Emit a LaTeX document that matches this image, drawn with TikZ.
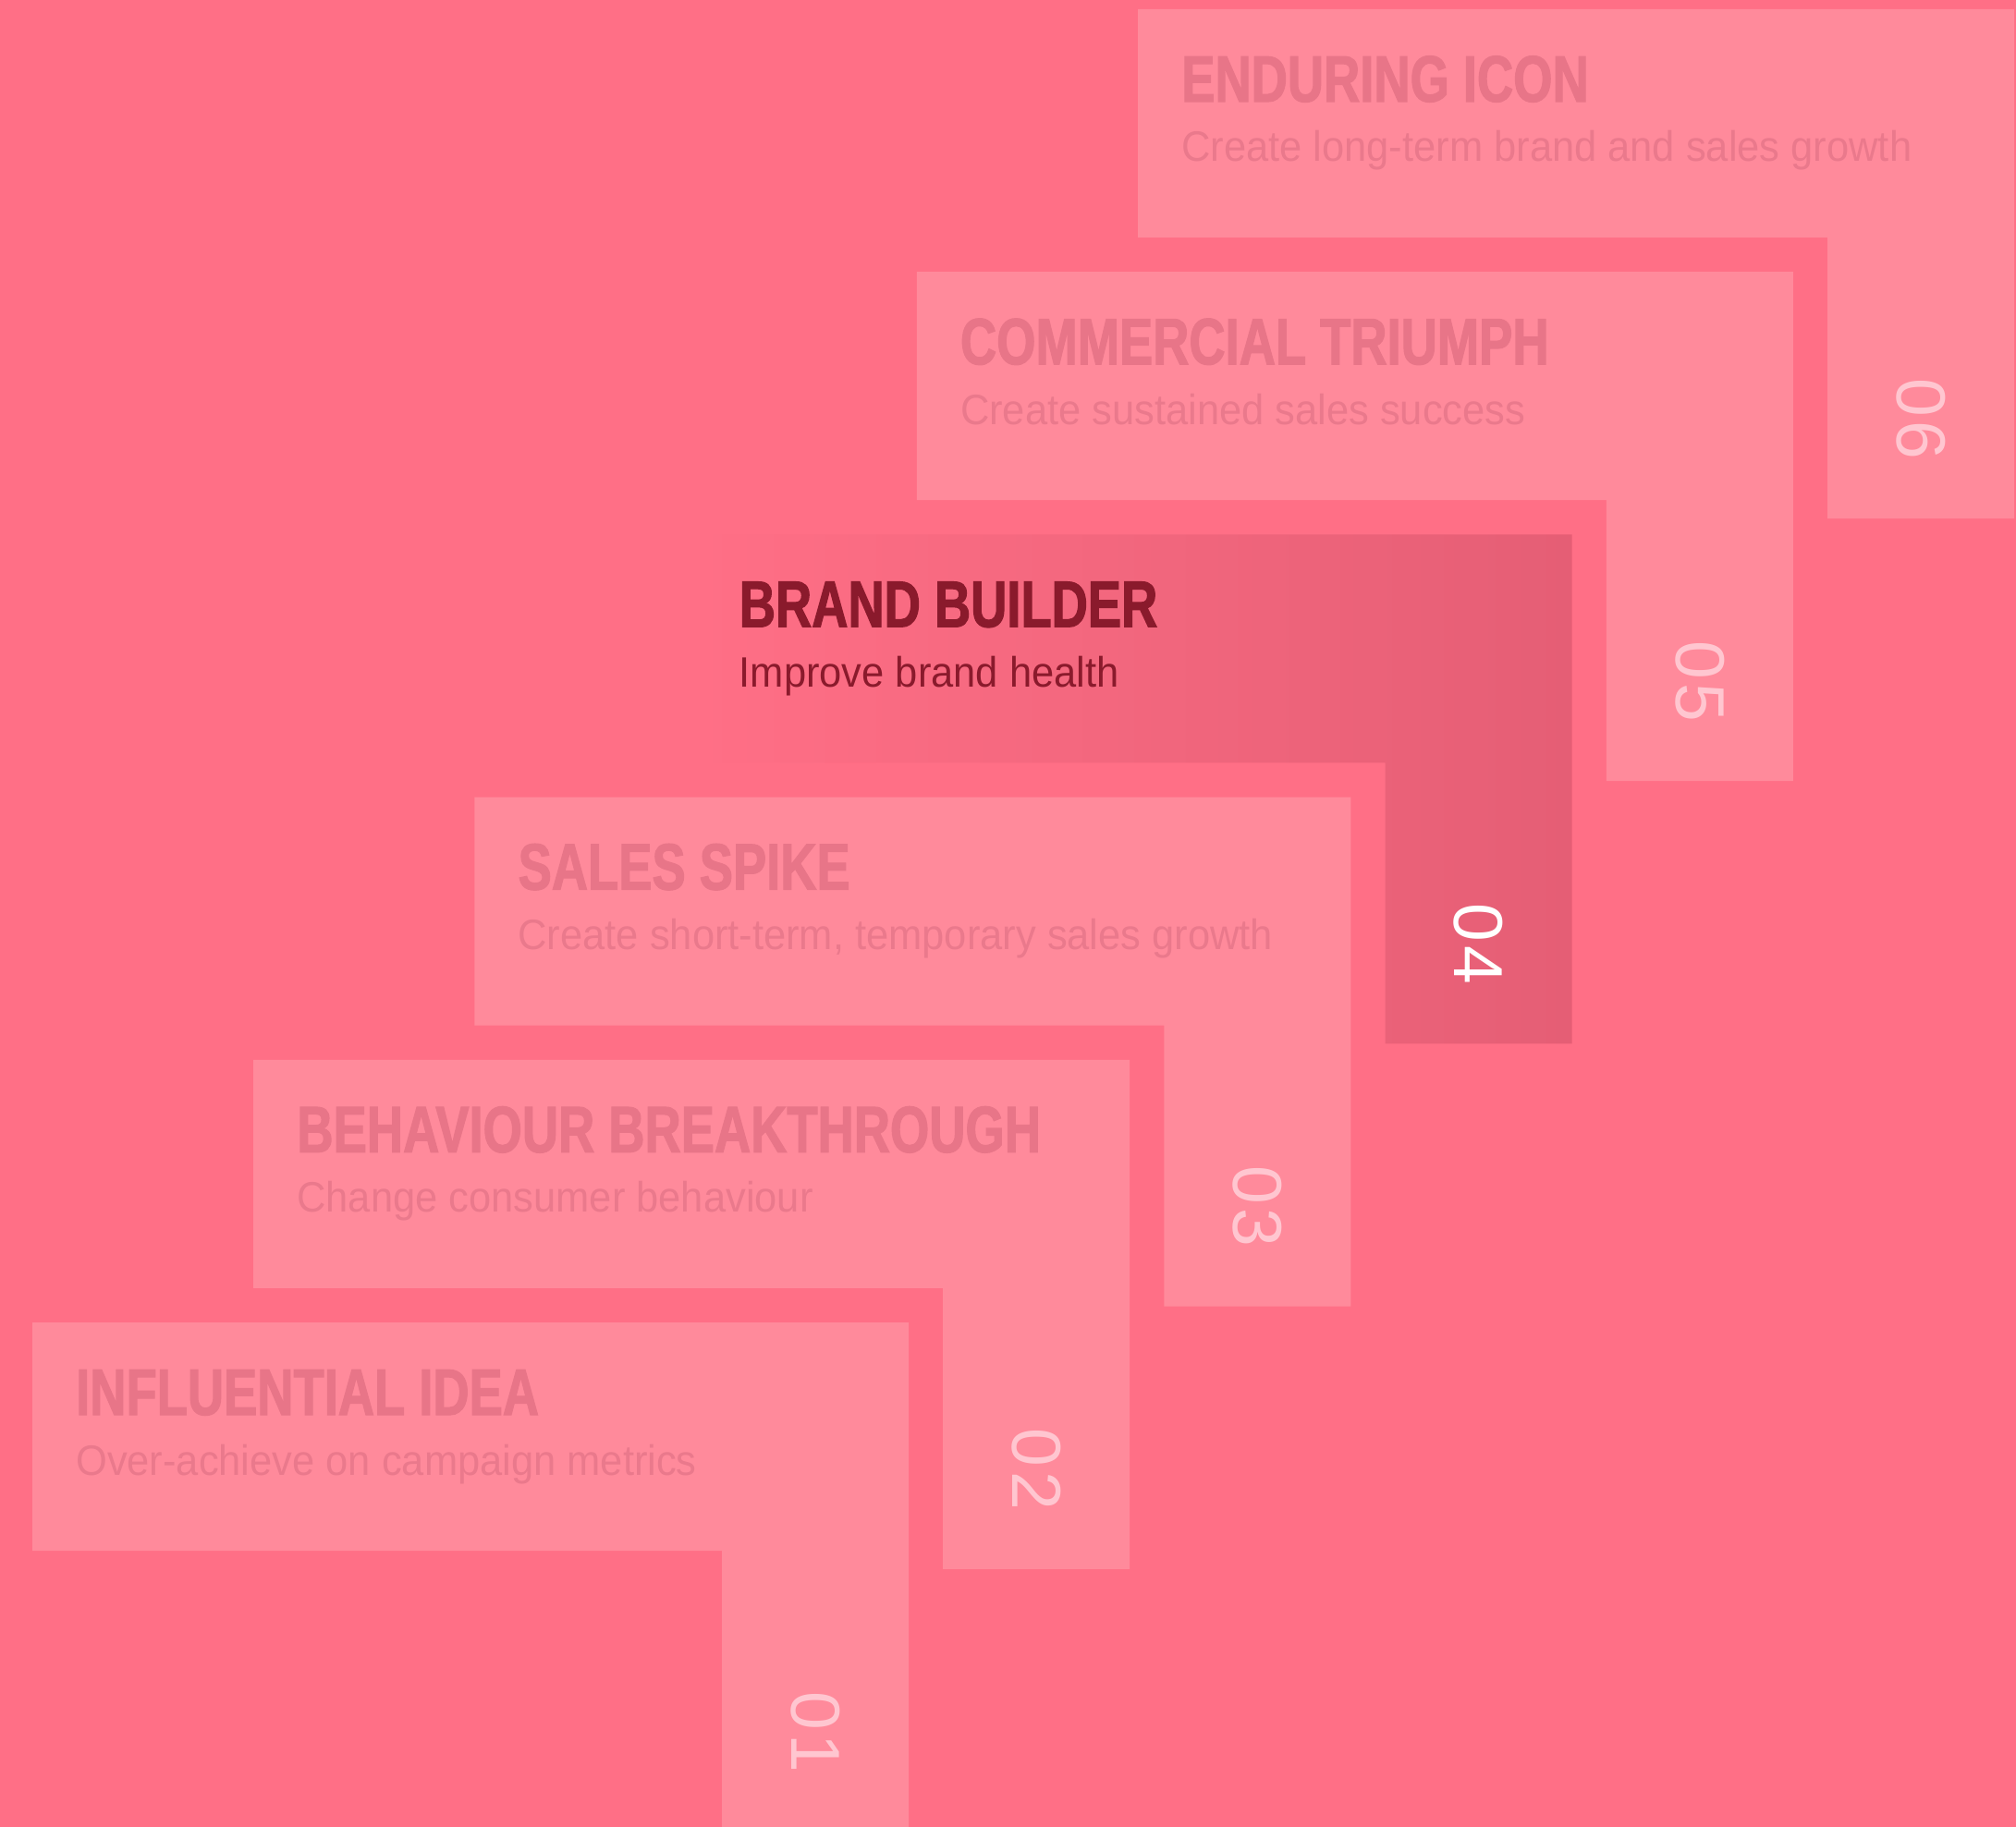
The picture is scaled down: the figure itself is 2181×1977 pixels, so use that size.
\documentclass[tikz,border=0pt]{standalone}
\usepackage{fontspec}
\newfontfamily\titlefont{Liberation Sans}[FakeStretch=0.765,FakeBold=1.6]
\newfontfamily\subfont{Liberation Sans}[FakeStretch=0.945]
\newfontfamily\numfont{Liberation Sans}[LetterSpace=6]
\definecolor{bgc}{HTML}{FF6F86}
\definecolor{lightblk}{HTML}{FF8A9B}
\definecolor{lighttitle}{HTML}{E87588}
\definecolor{lightsub}{HTML}{EA798C}
\definecolor{lightnum}{HTML}{FFC6D0}
\definecolor{darkblk}{HTML}{E55E75}
\definecolor{darktext}{HTML}{8A1A2C}
\tikzset{
  titletext/.style={anchor=base west, inner sep=0pt, font=\titlefont\bfseries\fontsize{71}{71}\selectfont},
  subtext/.style={anchor=base west, inner sep=0pt, font=\subfont\fontsize{46}{46}\selectfont},
  numtext/.style={anchor=center, inner sep=0pt, rotate=-90, font=\numfont\fontsize{75}{75}\selectfont},
}
\begin{document}
\begin{tikzpicture}[x=1pt,y=-1pt]
\useasboundingbox (0,0) rectangle (2181,1977);
\clip (0,0) rectangle (2181,1977);
\fill[bgc] (0,0) rectangle (2181,1977);
% light blocks
\foreach \i/\ti/\su in {1/INFLUENTIAL IDEA/Over-achieve on campaign metrics,
  2/BEHAVIOUR BREAKTHROUGH/Change consumer behaviour,
  {3/SALES SPIKE/Create short-term, temporary sales growth},
  5/COMMERCIAL TRIUMPH/Create sustained sales success,
  6/ENDURING ICON/Create long-term brand and sales growth}{
  \pgfmathsetmacro\L{35+239.2*(\i-1)}
  \pgfmathsetmacro\T{1431-284.2*(\i-1)}
  \pgfmathsetmacro\R{\L+948}
  \pgfmathsetmacro\V{\R-202}
  \pgfmathsetmacro\C{\R-101}
  \fill[lightblk] (\L,\T) -- (\R,\T) -- (\R,\T+551) -- (\V,\T+551) -- (\V,\T+247) -- (\L,\T+247) -- cycle;
  \node[titletext, text=lighttitle] (title\i) at (\L+47,\T+100) {\ti};
  \node[subtext, text=lightsub] (sub\i) at (\L+47,\T+165) {\su};
  \node[numtext, text=lightnum] (num\i) at (\C,\T+443) {0\i};
}
% highlighted block 4
\pgfmathsetmacro\L{35+239.2*3}
\pgfmathsetmacro\T{1431-284.2*3}
\pgfmathsetmacro\R{\L+948}
\pgfmathsetmacro\V{\R-202}
\pgfmathsetmacro\C{\R-101}
\shade[left color=bgc, right color=darkblk] (\L,\T) -- (\R,\T) -- (\R,\T+551) -- (\V,\T+551) -- (\V,\T+247) -- (\L,\T+247) -- cycle;
\node[titletext, text=darktext] (title4) at (\L+47,\T+100) {BRAND BUILDER};
\node[subtext, text=darktext] (sub4) at (\L+47,\T+165) {Improve brand health};
\node[numtext, text=white] (num4) at (\C,\T+443) {04};
\end{tikzpicture}
\end{document}
